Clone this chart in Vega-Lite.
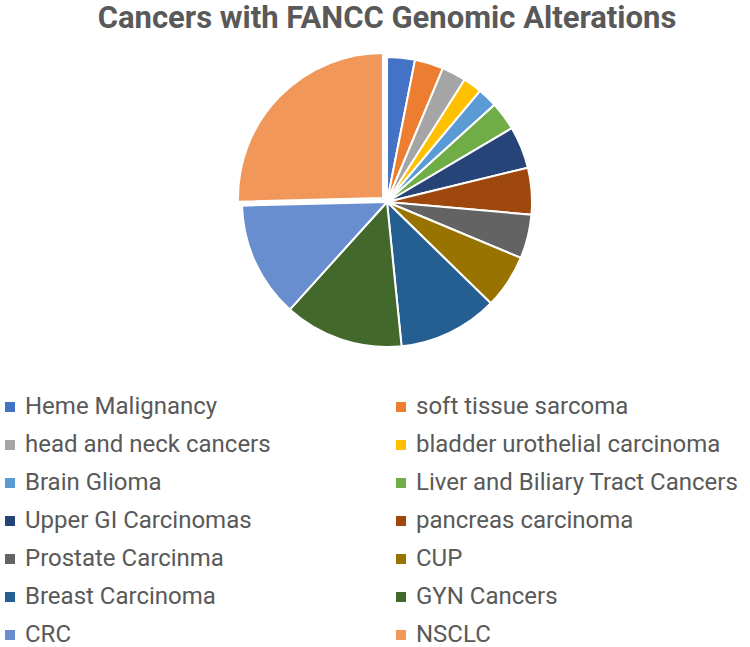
{
  "$schema": "https://vega.github.io/schema/vega-lite/v6.json",
  "width": 726,
  "height": 290,
  "autosize": {"type": "none"},
  "padding": {"left": 24, "right": 0, "top": 57, "bottom": 300},
  "background": "white",
  "title": {
    "text": "Cancers with FANCC Genomic Alterations",
    "font": "Roboto",
    "fontSize": 31,
    "fontWeight": "bold",
    "color": "#595959",
    "anchor": "middle",
    "offset": 14
  },
  "data": {
    "values": [
      {"cancer": "Heme Malignancy", "rank": 1, "share": 3.1},
      {"cancer": "soft tissue sarcoma", "rank": 2, "share": 3.2},
      {"cancer": "head and neck cancers", "rank": 3, "share": 2.7},
      {"cancer": "bladder urothelial carcinoma", "rank": 4, "share": 2.1},
      {"cancer": "Brain Glioma", "rank": 5, "share": 2.2},
      {"cancer": "Liver and Biliary Tract Cancers", "rank": 6, "share": 3.2},
      {"cancer": "Upper GI Carcinomas", "rank": 7, "share": 4.7},
      {"cancer": "pancreas carcinoma", "rank": 8, "share": 5.2},
      {"cancer": "Prostate Carcinma", "rank": 9, "share": 4.9},
      {"cancer": "CUP", "rank": 10, "share": 6.0},
      {"cancer": "Breast Carcinoma", "rank": 11, "share": 11.1},
      {"cancer": "GYN Cancers", "rank": 12, "share": 13.3},
      {"cancer": "CRC", "rank": 13, "share": 12.9},
      {"cancer": "NSCLC", "rank": 14, "share": 25.4}
    ]
  },
  "encoding": {
    "theta": {"field": "share", "type": "quantitative", "stack": true},
    "order": {"field": "rank", "type": "quantitative"},
    "color": {
      "field": "cancer",
      "type": "nominal",
      "scale": {
        "domain": ["Heme Malignancy", "soft tissue sarcoma", "head and neck cancers", "bladder urothelial carcinoma", "Brain Glioma", "Liver and Biliary Tract Cancers", "Upper GI Carcinomas", "pancreas carcinoma", "Prostate Carcinma", "CUP", "Breast Carcinoma", "GYN Cancers", "CRC", "NSCLC"],
        "range": ["#4472C4", "#ED7D31", "#A5A5A5", "#FFC000", "#5B9BD5", "#70AD47", "#264478", "#9E480E", "#636363", "#997300", "#255E91", "#43682B", "#698ED0", "#F1975A"]
      },
      "legend": {
        "title": null,
        "orient": "none",
        "direction": "horizontal",
        "legendX": -26,
        "legendY": 338,
        "columns": 2,
        "columnPadding": 118,
        "rowPadding": 14,
        "padding": 0,
        "symbolType": "square",
        "symbolSize": 100,
        "symbolStrokeWidth": 0,
        "labelFont": "Roboto",
        "labelFontSize": 24,
        "labelColor": "#595959",
        "labelOffset": 3,
        "labelLimit": 400
      }
    }
  },
  "layer": [
    {
      "mark": {"type": "arc", "outerRadius": 145, "stroke": "white", "strokeWidth": 2},
      "encoding": {
        "opacity": {"condition": {"test": "datum.cancer === 'NSCLC'", "value": 0}, "value": 1}
      }
    },
    {
      "mark": {"type": "arc", "outerRadius": 145, "stroke": "white", "strokeWidth": 2, "xOffset": -4, "yOffset": -4},
      "encoding": {
        "opacity": {"condition": {"test": "datum.cancer === 'NSCLC'", "value": 1}, "value": 0}
      }
    }
  ],
  "config": {"view": {"stroke": null}}
}
